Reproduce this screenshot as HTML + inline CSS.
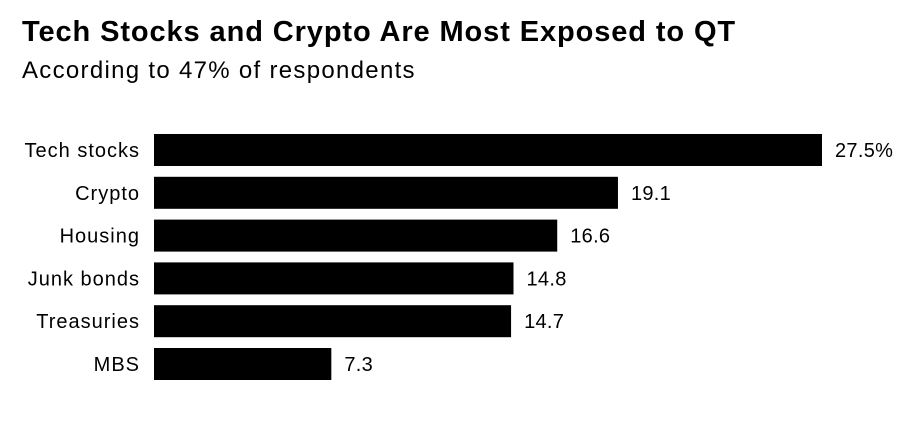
<!DOCTYPE html>
<html><head><meta charset="utf-8">
<style>
body{margin:0;background:#fff;width:909px;height:426px;overflow:hidden;font-family:"Liberation Sans",sans-serif;}
#title{position:absolute;left:22px;top:16px;font-size:29px;font-weight:bold;color:#000;letter-spacing:0.9px;white-space:nowrap}
#sub{position:absolute;left:22px;top:57px;font-size:24px;color:#000;letter-spacing:1.3px;white-space:nowrap}
svg{position:absolute;left:0;top:0}
</style></head><body>
<div id="title">Tech Stocks and Crypto Are Most Exposed to QT</div>
<div id="sub">According to 47% of respondents</div>
<svg id="chart" width="909" height="426"></svg>
<script>
const categories=["Tech stocks","Crypto","Housing","Junk bonds","Treasuries","MBS"];
const values=[27.5,19.1,16.6,14.8,14.7,7.3];
const valueLabels=["27.5%","19.1","16.6","14.8","14.7","7.3"];
const svg=document.getElementById('chart');
const NS="http://www.w3.org/2000/svg";
const x0=154, pxPer=668/27.5;
const xs=v=>x0+v*pxPer;
const ys=i=>134+i*42.8;
const bh=32;
categories.forEach((c,i)=>{
  const r=document.createElementNS(NS,'rect');
  r.setAttribute('x',x0);r.setAttribute('y',ys(i));
  r.setAttribute('width',xs(values[i])-x0);r.setAttribute('height',bh);r.setAttribute('fill','#000');
  
  
  svg.appendChild(r);
  const t=document.createElementNS(NS,'text');
  t.setAttribute('x',140);t.setAttribute('y',ys(i)+bh/2+7);
  t.setAttribute('text-anchor','end');t.setAttribute('font-size','20');t.setAttribute('letter-spacing','1');
  t.setAttribute('font-family','Liberation Sans, sans-serif');
  t.textContent=c;
  
  
  svg.appendChild(t);
  const v=document.createElementNS(NS,'text');
  v.setAttribute('x',xs(values[i])+13);v.setAttribute('y',ys(i)+bh/2+7);
  v.setAttribute('font-size','20');v.setAttribute('letter-spacing','0.3');
  v.setAttribute('font-family','Liberation Sans, sans-serif');
  v.textContent=valueLabels[i];
  
  
  svg.appendChild(v);
});
</script>
</body></html>
